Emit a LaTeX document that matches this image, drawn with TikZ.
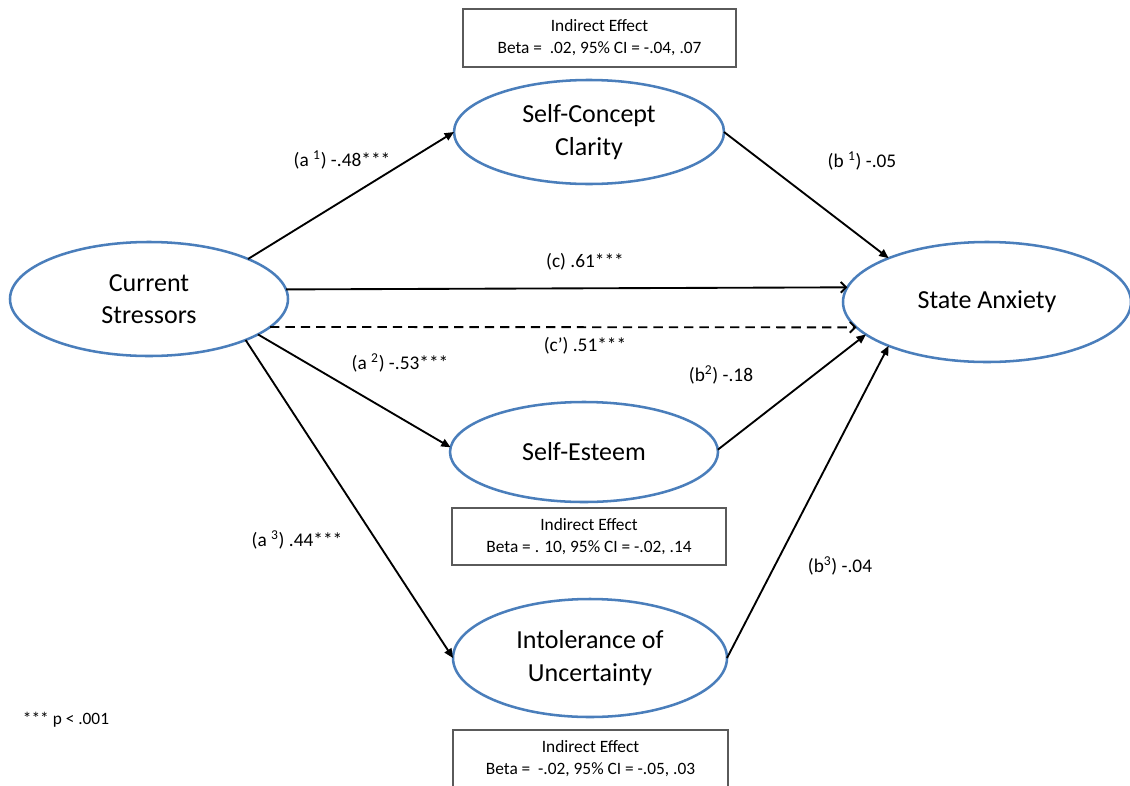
\documentclass[tikz,border=0pt]{standalone}
\usepackage{fontspec}
\setmainfont{Carlito}
\usetikzlibrary{shapes.geometric,arrows.meta}
\definecolor{ovalblue}{RGB}{74,126,187}
\definecolor{boxgray}{RGB}{90,90,90}
\tikzset{
  latent/.style={ellipse, draw=ovalblue, line width=1.9pt, inner sep=0pt, outer sep=0pt,
    align=center, font=\fontsize{19.5}{24.5}\selectfont},
  effectbox/.style={rectangle, draw=boxgray, line width=0.9pt, inner sep=0pt, outer sep=0pt,
    align=center, font=\fontsize{13}{16.5}\selectfont},
  path/.style={draw=black, line width=1.4pt, -{Triangle[length=7pt,width=6pt]}},
  direct/.style={draw=black, line width=1.4pt, -{Straight Barb[length=4pt,width=8pt]}},
  coef/.style={font=\fontsize{14.5}{16}\selectfont, inner sep=0pt}
}
\begin{document}
\begin{tikzpicture}[x=0.75pt,y=-0.75pt]
\useasboundingbox (0,0) rectangle (1130,785);
\clip (0,0) rectangle (1130,785);

% latent variables
\node[latent, minimum width=208.5pt, minimum height=85.5pt] (cs)  at (149,299) {Current\\Stressors};
\node[latent, minimum width=202.5pt, minimum height=78pt]   (scc) at (589,132) {Self-Concept\\Clarity};
\node[latent, minimum width=216pt,   minimum height=90pt]   (sa)  at (987,302) {State Anxiety};
\node[latent, minimum width=201pt,   minimum height=75pt]   (se)  at (584,452) {Self-Esteem};
\node[latent, minimum width=205.5pt, minimum height=88.5pt] (iu)  at (590,658) {Intolerance of\\Uncertainty};

% indirect effect boxes
\node[effectbox, minimum width=204.75pt, minimum height=43.5pt] (ie1) at (599.5,38)
  {Indirect Effect\\Beta =\ \ .02, 95\% CI = -.04, .07};
\node[effectbox, minimum width=205.5pt, minimum height=42.75pt] (ie2) at (589,536.5)
  {Indirect Effect\\Beta = . 10, 95\% CI = -.02, .14};
\node[effectbox, minimum width=206.25pt, minimum height=43.5pt] (ie3) at (590.5,759)
  {Indirect Effect\\Beta =\ \ -.02, 95\% CI = -.05, .03};

% paths
\draw[path] (cs.22.5) -- (scc.180);
\draw[path] (scc.0) -- (sa.156.3);
\draw[direct] (cs.4.1) -- (sa.174.7);
\draw[direct, dash pattern=on 7pt off 4.5pt] (cs.-13.2) -- (sa.-169.5);
\draw[path] (cs.-18.3) -- (se.178.3);
\draw[path] (cs.-23.5) -- (iu.180);
\draw[path] (se.1.7) -- (sa.-165.2);
\draw[path] (iu.0) -- (sa.-156.5);

% coefficients
\node[coef] (la1) at (342,160) {(a \textsuperscript{1}) -.48***};
\node[coef] (lb1) at (862,161) {(b \textsuperscript{1}) -.05};
\node[coef] (lc)  at (585,262) {(c) .61***};
\node[coef] (lcp) at (585,346) {(c’) .51***};
\node[coef] (la2) at (400,363) {(a \textsuperscript{2}) -.53***};
\node[coef] (lb2) at (721,375) {(b\textsuperscript{2}) -.18};
\node[coef] (la3) at (297,540) {(a \textsuperscript{3}) .44***};
\node[coef] (lb3) at (840,566) {(b\textsuperscript{3}) -.04};
\node[coef, font=\fontsize{13}{15}\selectfont] (sig) at (66,720) {*** p < .001};
\end{tikzpicture}
\end{document}
